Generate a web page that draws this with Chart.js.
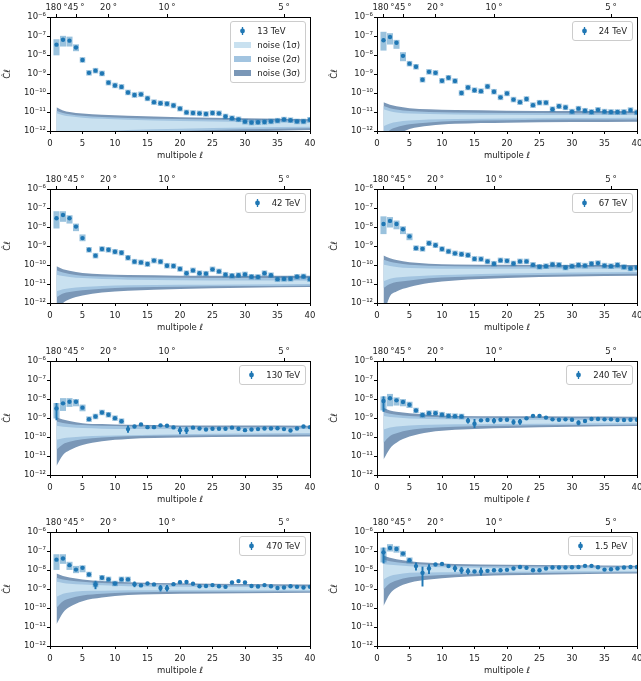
<!DOCTYPE html>
<html><head><meta charset="utf-8">
<script src="https://cdn.jsdelivr.net/npm/chart.js@4.4.1/dist/chart.umd.min.js"></script>
<style>
html,body{margin:0;padding:0;background:#fff;}
#wrap{position:relative;width:641px;height:681px;overflow:hidden;background:#fff;font-family:'DejaVu Sans',sans-serif;}
#wrap canvas{position:absolute;}
.leg{position:absolute;z-index:5;background:rgba(255,255,255,0.85);border:1px solid #ccc;border-radius:3px;padding:2px 5px 2px 3px;font-size:8.5px;color:#222;white-space:nowrap;}
.row{display:flex;align-items:center;height:14px;}
.hd{width:17px;height:14px;display:flex;align-items:center;justify-content:center;margin-right:6px;}
.patch{width:17px;height:6.5px;}
</style></head><body><div id="wrap"></div>
<script>
// ---------- axes / ticks ----------
const ell = [1,2,3,4,5,6,7,8,9,10,11,12,13,14,15,16,17,18,19,20,21,22,23,24,25,26,27,28,29,30,31,32,33,34,35,36,37,38,39,40];
const xTicks = [0,5,10,15,20,25,30,35,40];
const xTickLabels = ['0','5','10','15','20','25','30','35','40'];
const topTickL = [1,4,9,18,36];
const topTickLabels = ['180\u2009°','45\u2009°','20\u2009°','10\u2009°','5\u2009°'];
const yTicks = [1e-12,1e-11,1e-10,1e-9,1e-8,1e-7,1e-6];
const yTickLabels = ['10⁻¹²','10⁻¹¹','10⁻¹⁰','10⁻⁹','10⁻⁸','10⁻⁷','10⁻⁶'];
const panelLabels = ['13 TeV','24 TeV','42 TeV','67 TeV','130 TeV','240 TeV','470 TeV','1.5 PeV'];
const noiseLabels = ['noise (1σ)','noise (2σ)','noise (3σ)'];

// ---------- measured power spectra C_l, l = 1..40 ----------
const cl13 = [3.5e-8,6.4e-8,5.7e-8,2.5e-8,5.5e-9,1.15e-9,1.5e-9,1.07e-9,3.5e-10,2.5e-10,
 2.1e-10,1.07e-10,7.8e-11,8.5e-11,5.2e-11,3.3e-11,2.9e-11,2.7e-11,2.2e-11,1.5e-11,
 9.5e-12,8.9e-12,8.5e-12,7.9e-12,8.9e-12,8.5e-12,5.8e-12,4.7e-12,4.1e-12,3.1e-12,
 2.8e-12,2.9e-12,3.0e-12,3.2e-12,3.5e-12,4.0e-12,3.7e-12,3.2e-12,3.2e-12,3.9e-12];
const cl24 = [6.0e-8,8.9e-8,4.4e-8,9.0e-9,3.5e-9,2.4e-9,5.0e-10,1.3e-9,1.15e-9,4.4e-10,
 6.3e-10,4.3e-10,1.0e-10,1.95e-10,1.4e-10,1.25e-10,2.2e-10,1.17e-10,5.9e-11,9.5e-11,
 4.5e-11,3.3e-11,4.8e-11,2.3e-11,3.1e-11,3.1e-11,1.4e-11,2.0e-11,1.75e-11,1.05e-11,
 1.5e-11,1.17e-11,1.0e-11,1.3e-11,1.05e-11,1.0e-11,1.0e-11,1.0e-11,1.26e-11,9.6e-12];
const cl42 = [2.9e-8,4.3e-8,2.9e-8,1.05e-8,2.6e-9,6.3e-10,3.1e-10,6.9e-10,6.3e-10,5.0e-10,
 4.4e-10,2.4e-10,1.5e-10,1.37e-10,1.12e-10,1.7e-10,1.5e-10,9.2e-11,8.8e-11,6.2e-11,
 3.7e-11,5.2e-11,3.7e-11,3.5e-11,5.9e-11,4.6e-11,3.1e-11,2.7e-11,2.9e-11,3.2e-11,
 2.4e-11,2.35e-11,3.7e-11,2.9e-11,1.8e-11,1.85e-11,1.9e-11,2.4e-11,2.5e-11,1.8e-11];
const cl67 = [1.45e-8,2.1e-8,1.45e-8,7.6e-9,3.2e-9,7.7e-10,7.1e-10,1.4e-9,1.1e-9,6.9e-10,
 5.2e-10,4.1e-10,3.7e-10,3.3e-10,2.1e-10,2.05e-10,1.55e-10,1.17e-10,1.75e-10,1.65e-10,
 1.2e-10,1.55e-10,1.55e-10,1.02e-10,8.1e-11,8.7e-11,1.07e-10,1.02e-10,7.4e-11,8.7e-11,
 1.0e-10,9.3e-11,1.17e-10,1.26e-10,9.3e-11,8.7e-11,1.0e-10,7.8e-11,6.6e-11,7.2e-11];
const cl130 = [3.2e-9,5.9e-9,7.2e-9,7.2e-9,3.5e-9,8.7e-10,1.2e-9,1.95e-9,1.48e-9,9.8e-10,
 6.8e-10,2.6e-10,3.6e-10,4.6e-10,3.3e-10,3.3e-10,4.1e-10,3.9e-10,3.2e-10,2.3e-10,
 2.3e-10,3.1e-10,2.8e-10,2.5e-10,2.7e-10,2.7e-10,2.7e-10,3.1e-10,2.7e-10,2.3e-10,
 2.5e-10,2.6e-10,2.8e-10,2.8e-10,2.9e-10,2.6e-10,2.2e-10,2.8e-10,3.6e-10,3.3e-10];
const cl240 = [7.8e-9,1.1e-8,8.5e-9,6.9e-9,5.0e-9,2.5e-9,1.44e-9,1.8e-9,1.8e-9,1.5e-9,
 1.3e-9,1.25e-9,1.2e-9,7.2e-10,5.0e-10,7.5e-10,7.8e-10,7.2e-10,8.1e-10,8.1e-10,
 6.1e-10,6.3e-10,9.6e-10,1.3e-9,1.3e-9,1.05e-9,8.5e-10,8.1e-10,8.5e-10,8.1e-10,
 5.6e-10,6.9e-10,8.9e-10,8.9e-10,8.5e-10,8.5e-10,7.8e-10,7.8e-10,8.1e-10,8.1e-10];
const cl470 = [3.5e-8,4.0e-8,1.8e-8,1.05e-8,1.3e-8,5.8e-9,1.73e-9,3.9e-9,3.2e-9,1.95e-9,
 3.2e-9,3.2e-9,1.8e-9,1.55e-9,1.95e-9,1.75e-9,1.12e-9,1.1e-9,1.8e-9,2.3e-9,
 2.35e-9,1.9e-9,1.4e-9,1.45e-9,1.6e-9,1.4e-9,1.3e-9,2.2e-9,2.6e-9,2.2e-9,
 1.45e-9,1.35e-9,1.6e-9,1.4e-9,1.12e-9,1.2e-9,1.4e-9,1.3e-9,1.2e-9,1.3e-9];
const cl1500 = [8.5e-8,1.45e-7,1.28e-7,7.3e-8,3.3e-8,1.6e-8,7.1e-9,1.2e-8,1.95e-8,2.1e-8,
 1.6e-8,1.24e-8,9.7e-9,8.7e-9,8.3e-9,8.3e-9,9.0e-9,9.7e-9,9.7e-9,1.02e-8,
 1.2e-8,1.45e-8,1.3e-8,9.7e-9,9.7e-9,1.2e-8,1.35e-8,1.35e-8,1.35e-8,1.4e-8,
 1.45e-8,1.65e-8,1.65e-8,1.4e-8,1.05e-8,1.1e-8,1.2e-8,1.35e-8,1.45e-8,1.45e-8];

// ---------- uncertainty boxes (l, low, high) ----------
const boxL13 = [1,2,3,4], boxLo13 = [1.0e-8,2.9e-8,2.9e-8,1.65e-8], boxHi13 = [6.5e-8,9.8e-8,8.9e-8,3.5e-8];
const boxL24 = [1,2,3,4], boxLo24 = [1.78e-8,3.7e-8,2.2e-8,4.9e-9], boxHi24 = [1.6e-7,1.35e-7,6.0e-8,1.35e-8];
const boxL42 = [1,2,3,4,5], boxLo42 = [8.7e-9,1.95e-8,1.58e-8,6.3e-9,1.86e-9], boxHi42 = [6.5e-8,6.5e-8,4.0e-8,1.45e-8,3.9e-9];
const boxL67 = [1,2,3,4,5], boxLo67 = [4.4e-9,9.8e-9,7.9e-9,4.4e-9,2.1e-9], boxHi67 = [3.5e-8,3.2e-8,2.1e-8,1.05e-8,4.4e-9];
const boxL130 = [1,2,3,4,5], boxLo130 = [9.8e-10,2.45e-9,4.0e-9,4.3e-9,2.35e-9], boxHi130 = [5.9e-9,1.07e-8,1.07e-8,9.5e-9,4.9e-9];
const boxL240 = [1,2,3,4,5], boxLo240 = [2.6e-9,4.3e-9,4.7e-9,4.3e-9,3.5e-9], boxHi240 = [1.32e-8,1.78e-8,1.17e-8,9.5e-9,6.9e-9];
const boxL470 = [1,2,3,4,5], boxLo470 = [1.05e-8,2.2e-8,1.05e-8,7.1e-9,7.9e-9], boxHi470 = [6.5e-8,6.5e-8,2.6e-8,1.58e-8,1.7e-8];
const boxL1500 = [1,2,3,4,5], boxLo1500 = [2.6e-8,9.8e-8,8.5e-8,5.2e-8,2.35e-8], boxHi1500 = [1.45e-7,2.2e-7,1.78e-7,9.8e-8,4.4e-8];
// number of leading multipoles drawn with a systematic square
const haloCount = [40,40,40,40,11,13,12,5];

// ---------- statistical error bars (l, low, high) ----------
const errL130 = [1,12,20,21], errLo130 = [7.9e-10,1.74e-10,1.44e-10,1.5e-10], errHi130 = [5.9e-9,3.9e-10,3.3e-10,3.3e-10];
const errL240 = [1,14,15,18,21,22,31], errLo240 = [2.2e-9,5.3e-10,3.1e-10,5.3e-10,4.6e-10,4.6e-10,4.3e-10], errHi240 = [1.32e-8,1.0e-9,8.5e-10,9.5e-10,8.3e-10,8.5e-10,7.3e-10];
const errL470 = [7,13,17,18], errLo470 = [1.02e-9,1.3e-9,7.7e-10,7.7e-10], errHi470 = [2.6e-9,2.4e-9,1.55e-9,1.55e-9];
const errL1500 = [1,6,7,8,12,13,14,16], errLo1500 = [2.3e-8,9.8e-9,1.41e-9,6.5e-9,8.3e-9,6.5e-9,6.0e-9,5.4e-9], errHi1500 = [1.45e-7,2.35e-8,1.45e-8,1.95e-8,1.7e-8,1.4e-8,1.2e-8,1.3e-8];

// ---------- noise bands: log10 of band edges at sampled multipoles ----------
const bandL = [1,2,3,5,8,12,20,30,40];
const u3_13 = [-10.75,-10.92,-11.0,-11.08,-11.14,-11.2,-11.27,-11.33,-11.38];
const u2_13 = [-10.93,-11.05,-11.12,-11.2,-11.26,-11.31,-11.37,-11.42,-11.46];
const u1_13 = [-11.07,-11.17,-11.23,-11.3,-11.36,-11.41,-11.47,-11.52,-11.55];
const l1_13 = [-12.6,-12.35,-12.2,-12.1,-12.02,-11.95,-11.88,-11.81,-11.77];
const l2_13 = [-13.5,-13.0,-12.7,-12.45,-12.25,-12.12,-12.0,-11.91,-11.86];
const l3_13 = [-14.5,-13.8,-13.3,-12.9,-12.55,-12.35,-12.15,-12.03,-11.95];

const u3_24 = [-10.49,-10.62,-10.7,-10.8,-10.86,-10.9,-10.93,-10.95,-10.96];
const u2_24 = [-10.69,-10.8,-10.87,-10.95,-11.0,-11.03,-11.05,-11.06,-11.07];
const u1_24 = [-10.86,-10.96,-11.02,-11.08,-11.11,-11.13,-11.15,-11.16,-11.16];
const l1_24 = [-11.75,-11.6,-11.52,-11.45,-11.4,-11.37,-11.34,-11.32,-11.3];
const l2_24 = [-12.3,-11.95,-11.8,-11.65,-11.55,-11.48,-11.43,-11.4,-11.39];
const l3_24 = [-13.5,-12.6,-12.25,-11.9,-11.72,-11.62,-11.56,-11.53,-11.51];

const u3_42 = [-10.07,-10.22,-10.3,-10.42,-10.49,-10.53,-10.56,-10.57,-10.57];
const u2_42 = [-10.28,-10.4,-10.47,-10.56,-10.61,-10.64,-10.67,-10.68,-10.69];
const u1_42 = [-10.51,-10.58,-10.63,-10.69,-10.74,-10.77,-10.8,-10.82,-10.83];
const l1_42 = [-11.38,-11.28,-11.22,-11.16,-11.11,-11.07,-11.04,-11.02,-11.0];
const l2_42 = [-11.7,-11.5,-11.42,-11.33,-11.25,-11.19,-11.14,-11.11,-11.09];
const l3_42 = [-12.4,-12.0,-11.8,-11.61,-11.45,-11.35,-11.26,-11.2,-11.16];

const u3_67 = [-9.50,-9.65,-9.74,-9.86,-9.93,-9.97,-9.99,-10.0,-10.0];
const u2_67 = [-9.72,-9.83,-9.9,-9.99,-10.04,-10.07,-10.08,-10.09,-10.09];
const u1_67 = [-9.99,-10.05,-10.1,-10.16,-10.18,-10.2,-10.2,-10.2,-10.2];
const l1_67 = [-10.86,-10.72,-10.66,-10.6,-10.55,-10.51,-10.45,-10.4,-10.37];
const l2_67 = [-11.21,-11.0,-10.9,-10.81,-10.7,-10.63,-10.55,-10.5,-10.46];
const l3_67 = [-12.6,-11.65,-11.4,-11.16,-10.95,-10.81,-10.68,-10.6,-10.56];

const u3_130 = [-8.96,-9.08,-9.16,-9.27,-9.32,-9.36,-9.39,-9.4,-9.41];
const u2_130 = [-9.18,-9.26,-9.31,-9.37,-9.41,-9.44,-9.47,-9.49,-9.5];
const u1_130 = [-9.41,-9.46,-9.49,-9.53,-9.56,-9.58,-9.58,-9.58,-9.58];
const l1_130 = [-10.14,-10.06,-10.02,-9.97,-9.94,-9.91,-9.86,-9.82,-9.79];
const l2_130 = [-10.66,-10.38,-10.25,-10.12,-10.02,-9.96,-9.92,-9.89,-9.88];
const l3_130 = [-11.53,-10.95,-10.7,-10.42,-10.22,-10.1,-10.03,-9.99,-9.97];

const u3_240 = [-8.46,-8.6,-8.67,-8.75,-8.83,-8.89,-8.91,-8.92,-8.93];
const u2_240 = [-8.68,-8.78,-8.83,-8.89,-8.94,-8.98,-9.0,-9.01,-9.02];
const u1_240 = [-8.89,-8.95,-8.98,-9.02,-9.05,-9.07,-9.09,-9.1,-9.11];
const l1_240 = [-9.6,-9.5,-9.45,-9.39,-9.36,-9.33,-9.31,-9.29,-9.28];
const l2_240 = [-10.3,-9.95,-9.8,-9.63,-9.53,-9.46,-9.41,-9.37,-9.35];
const l3_240 = [-11.18,-10.6,-10.3,-9.98,-9.75,-9.62,-9.52,-9.46,-9.42];

const u3_470 = [-8.19,-8.32,-8.4,-8.5,-8.58,-8.64,-8.7,-8.74,-8.76];
const u2_470 = [-8.41,-8.5,-8.55,-8.62,-8.68,-8.73,-8.78,-8.82,-8.85];
const u1_470 = [-8.62,-8.68,-8.72,-8.76,-8.8,-8.85,-8.88,-8.9,-8.92];
const l1_470 = [-9.41,-9.25,-9.18,-9.11,-9.09,-9.07,-9.06,-9.06,-9.06];
const l2_470 = [-9.99,-9.65,-9.5,-9.34,-9.25,-9.18,-9.15,-9.14,-9.13];
const l3_470 = [-10.86,-10.25,-9.95,-9.64,-9.45,-9.32,-9.25,-9.22,-9.2];

const u3_1500 = [-7.24,-7.36,-7.44,-7.54,-7.62,-7.68,-7.72,-7.75,-7.77];
const u2_1500 = [-7.45,-7.54,-7.59,-7.66,-7.72,-7.77,-7.8,-7.82,-7.84];
const u1_1500 = [-7.68,-7.72,-7.75,-7.8,-7.84,-7.87,-7.9,-7.91,-7.92];
const l1_1500 = [-8.5,-8.32,-8.24,-8.15,-8.13,-8.12,-8.09,-8.07,-8.06];
const l2_1500 = [-9.02,-8.7,-8.55,-8.38,-8.3,-8.24,-8.17,-8.14,-8.12];
const l3_1500 = [-9.9,-9.25,-8.95,-8.67,-8.5,-8.38,-8.28,-8.22,-8.19];

// ---------- table built from the arrays ----------
const panels = [
 {cl:cl13, bL:boxL13, bLo:boxLo13, bHi:boxHi13, eL:[], eLo:[], eHi:[], b:[u1_13,u2_13,u3_13,l1_13,l2_13,l3_13]},
 {cl:cl24, bL:boxL24, bLo:boxLo24, bHi:boxHi24, eL:[], eLo:[], eHi:[], b:[u1_24,u2_24,u3_24,l1_24,l2_24,l3_24]},
 {cl:cl42, bL:boxL42, bLo:boxLo42, bHi:boxHi42, eL:[], eLo:[], eHi:[], b:[u1_42,u2_42,u3_42,l1_42,l2_42,l3_42]},
 {cl:cl67, bL:boxL67, bLo:boxLo67, bHi:boxHi67, eL:[], eLo:[], eHi:[], b:[u1_67,u2_67,u3_67,l1_67,l2_67,l3_67]},
 {cl:cl130, bL:boxL130, bLo:boxLo130, bHi:boxHi130, eL:errL130, eLo:errLo130, eHi:errHi130, b:[u1_130,u2_130,u3_130,l1_130,l2_130,l3_130]},
 {cl:cl240, bL:boxL240, bLo:boxLo240, bHi:boxHi240, eL:errL240, eLo:errLo240, eHi:errHi240, b:[u1_240,u2_240,u3_240,l1_240,l2_240,l3_240]},
 {cl:cl470, bL:boxL470, bLo:boxLo470, bHi:boxHi470, eL:errL470, eLo:errLo470, eHi:errHi470, b:[u1_470,u2_470,u3_470,l1_470,l2_470,l3_470]},
 {cl:cl1500, bL:boxL1500, bLo:boxLo1500, bHi:boxHi1500, eL:errL1500, eLo:errLo1500, eHi:errHi1500, b:[u1_1500,u2_1500,u3_1500,l1_1500,l2_1500,l3_1500]}
];

// ---------- styling ----------
const C1 = '#c9e1f0', C2 = '#a2c4e0', C3 = '#7a97b7';
const BOX = 'rgba(31,119,180,0.45)', PT = '#1f77b4', TXT = '#222';
Chart.defaults.font.family = "'DejaVu Sans', sans-serif";
Chart.defaults.font.size = 8.5;
Chart.defaults.color = TXT;

const wrap = document.getElementById('wrap');
const plotLeft = [50, 377], plotTop = [17, 189, 361, 532], plotW = 260, plotH = 114;
const AXL = 50, AXT = 17, AXB = 30, AXR = 8;
const CW = AXL + plotW + AXR, CH = AXT + plotH + AXB;

const markerSVG = '<svg width="17" height="12"><line x1="8.5" y1="2" x2="8.5" y2="10" stroke="'+PT+'" stroke-width="1.3"/><circle cx="8.5" cy="6" r="2.4" fill="'+PT+'"/></svg>';
function legRow(handle, text){ return '<div class="row"><div class="hd">'+handle+'</div><span>'+text+'</span></div>'; }

panels.forEach((p, idx) => {
  const r = Math.floor(idx / 2), c = idx % 2;
  const pl = plotLeft[c], pt = plotTop[r];
  const cv = document.createElement('canvas');
  cv.width = CW; cv.height = CH;
  cv.style.left = (pl - AXL) + 'px'; cv.style.top = (pt - AXT) + 'px';
  cv.style.width = CW + 'px'; cv.style.height = CH + 'px';
  wrap.appendChild(cv);

  const band = (logs) => logs.map((e, i) => ({x: bandL[i], y: Math.pow(10, e)}));
  const bandDs = (logs, fill, color, order) => ({type:'line', data: band(logs), fill: fill,
     backgroundColor: color, borderColor:'rgba(0,0,0,0)', borderWidth:0, pointRadius:0,
     cubicInterpolationMode:'monotone', order: order, xAxisID:'x', yAxisID:'y'});
  const [u1,u2,u3,l1,l2,l3] = p.b;
  const nHalo = haloCount[idx];
  const haloPts = [];
  for (let i = 0; i < nHalo; i++) { if (p.bL.indexOf(ell[i]) < 0) haloPts.push({x: ell[i], y: p.cl[i]}); }

  const datasets = [
    bandDs(u3, '+1', C3, 10), bandDs(l3, false, C3, 10),
    bandDs(u2, '+1', C2, 9), bandDs(l2, false, C2, 9),
    bandDs(u1, '+1', C1, 8), bandDs(l1, false, C1, 8),
    {type:'bar', data: p.bL.map((l, i) => ({x: l, y: [p.bLo[i], p.bHi[i]]})), backgroundColor: BOX,
     borderWidth:0, barThickness:5.4, grouped:false, order:5, xAxisID:'x', yAxisID:'y'},
    {type:'scatter', data: haloPts, pointStyle:'rect', pointRadius:3.9, backgroundColor: BOX,
     borderWidth:0, order:4, xAxisID:'x', yAxisID:'y'},
    {type:'bar', data: p.eL.map((l, i) => ({x: l, y: [p.eLo[i], p.eHi[i]]})), backgroundColor: PT,
     borderWidth:0, barThickness:1.3, grouped:false, order:3, xAxisID:'x', yAxisID:'y'},
    {type:'scatter', data: p.cl.map((v, i) => ({x: ell[i], y: v})), pointStyle:'circle', pointRadius:2.2,
     backgroundColor: PT, borderWidth:0, order:1, xAxisID:'x', yAxisID:'y'}
  ];

  const tickGrid = {display:true, drawOnChartArea:false, drawTicks:true, tickLength:3, color:'#000', lineWidth:1, offset:false};
  const border = {display:true, color:'#000', width:1};

  new Chart(cv, {
    type: 'scatter',
    data: {datasets},
    options: {
      animation:false, responsive:false, devicePixelRatio:1,
      layout:{padding:0},
      events: [],
      plugins:{legend:{display:false}, tooltip:{enabled:false}},
      scales:{
        x:{type:'linear', position:'bottom', min:0, max:40, offset:false,
           afterBuildTicks: s => { s.ticks = xTicks.map(v => ({value:v})); },
           afterFit: s => { s.height = AXB; s.paddingLeft = 0; s.paddingRight = 0; },
           ticks:{callback:(v, i) => xTickLabels[i], autoSkip:false, maxRotation:0, padding:5, color:TXT, font:{size:8.5}},
           grid: tickGrid, border: border,
           title:{display:true, text:'multipole ℓ', color:TXT, font:{size:8.5}, padding:{top:0, bottom:0}}},
        x2:{type:'linear', position:'top', min:0, max:40, offset:false,
           afterBuildTicks: s => { s.ticks = topTickL.map(v => ({value:v})); },
           afterFit: s => { s.height = AXT; s.paddingLeft = 0; s.paddingRight = 0; },
           ticks:{callback:(v, i) => topTickLabels[i], autoSkip:false, maxRotation:0, padding:1, color:TXT, font:{size:8.5}},
           grid: tickGrid, border: border},
        y:{type:'logarithmic', position:'left', min:1e-12, max:1e-6,
           afterBuildTicks: s => { s.ticks = yTicks.map(v => ({value:v})); },
           afterFit: s => { s.width = AXL; s.paddingTop = 0; s.paddingBottom = 0; },
           ticks:{callback:(v, i) => yTickLabels[i], autoSkip:false, padding:1, color:TXT, font:{size:8.5}},
           grid: tickGrid, border: border,
           title:{display:true, text:'Ĉℓ', color:TXT, font:{size:8.5}, padding:{top:3, bottom:0}}},
        yr:{type:'linear', position:'right', min:0, max:1,
           afterFit: s => { s.width = AXR; },
           ticks:{display:false}, grid:{display:false, drawTicks:false}, border: border}
      }
    }
  });

  // legend (HTML overlay)
  const d = document.createElement('div');
  d.className = 'leg';
  d.style.right = (641 - (pl + plotW) + 4) + 'px';
  d.style.top = (pt + 4) + 'px';
  let html = legRow(markerSVG, panelLabels[idx]);
  if (idx === 0) {
    html += legRow('<div class="patch" style="background:'+C1+'"></div>', noiseLabels[0]);
    html += legRow('<div class="patch" style="background:'+C2+'"></div>', noiseLabels[1]);
    html += legRow('<div class="patch" style="background:'+C3+'"></div>', noiseLabels[2]);
  }
  d.innerHTML = html;
  wrap.appendChild(d);
});
</script></body></html>
